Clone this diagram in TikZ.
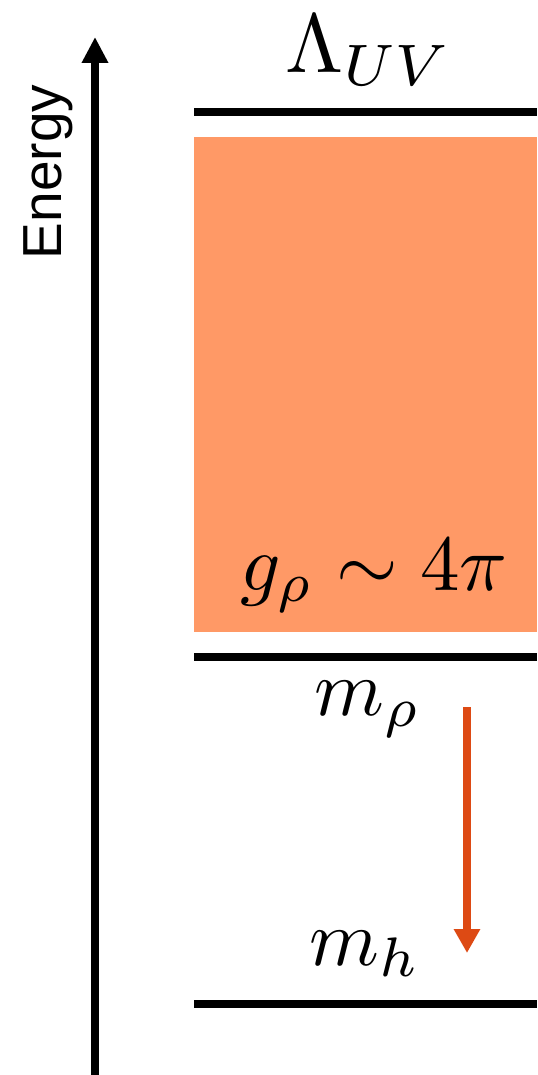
\documentclass[tikz,border=0pt]{standalone}
\usepackage{fontspec}
\setsansfont{Liberation Sans}
\usetikzlibrary{arrows.meta}
\definecolor{bandorange}{RGB}{255,153,102}
\definecolor{flowred}{RGB}{221,74,20}
\begin{document}
\begin{tikzpicture}[x=0.5pt, y=-0.5pt,
  level/.style={line width=4pt, black},
  lbl/.style={inner sep=0pt, scale=4.1}]
	\useasboundingbox (0,0) rectangle (537,1075);

	% energy axis
	\coordinate (axisbot) at (95,1075);
	\coordinate (axistop) at (95,37);
	\draw[line width=4pt, -{Triangle[length=13pt, width=12.5pt]}] (axisbot) -- (axistop);
	\node[rotate=90, inner sep=0pt, scale=2.75, font=\sffamily] (energy) at (48,172) {Energy};

	% strongly coupled band
	\fill[bandorange] (194,137) rectangle (537,632);

	% levels
	\coordinate (uvL) at (194,112);  \coordinate (uvR) at (537,112);
	\coordinate (rhoL) at (194,657); \coordinate (rhoR) at (537,657);
	\coordinate (hL) at (194,1004);  \coordinate (hR) at (537,1004);
	\draw[level] (uvL) -- (uvR);
	\draw[level] (rhoL) -- (rhoR);
	\draw[level] (hL) -- (hR);

	% labels
	\node[lbl, scale=1.02, anchor=base] (lamuv) at (369,73) {$\Lambda_{UV}$};
	\node[lbl, scale=0.965, anchor=base] (grho) at (374,590) {$g_\rho\sim4\pi$};
	\node[lbl, scale=0.97, anchor=base] (mrho) at (368,715) {$m_\rho$};
	\node[lbl, scale=0.97, anchor=base] (mh) at (365,965) {$m_h$};

	% flow from m_rho down to m_h
	\coordinate (flowtop) at (467,707);
	\coordinate (flowbot) at (467,953);
	\draw[flowred, line width=4pt, -{Triangle[length=12pt, width=12.5pt]}] (flowtop) -- (flowbot);
\end{tikzpicture}
\end{document}
